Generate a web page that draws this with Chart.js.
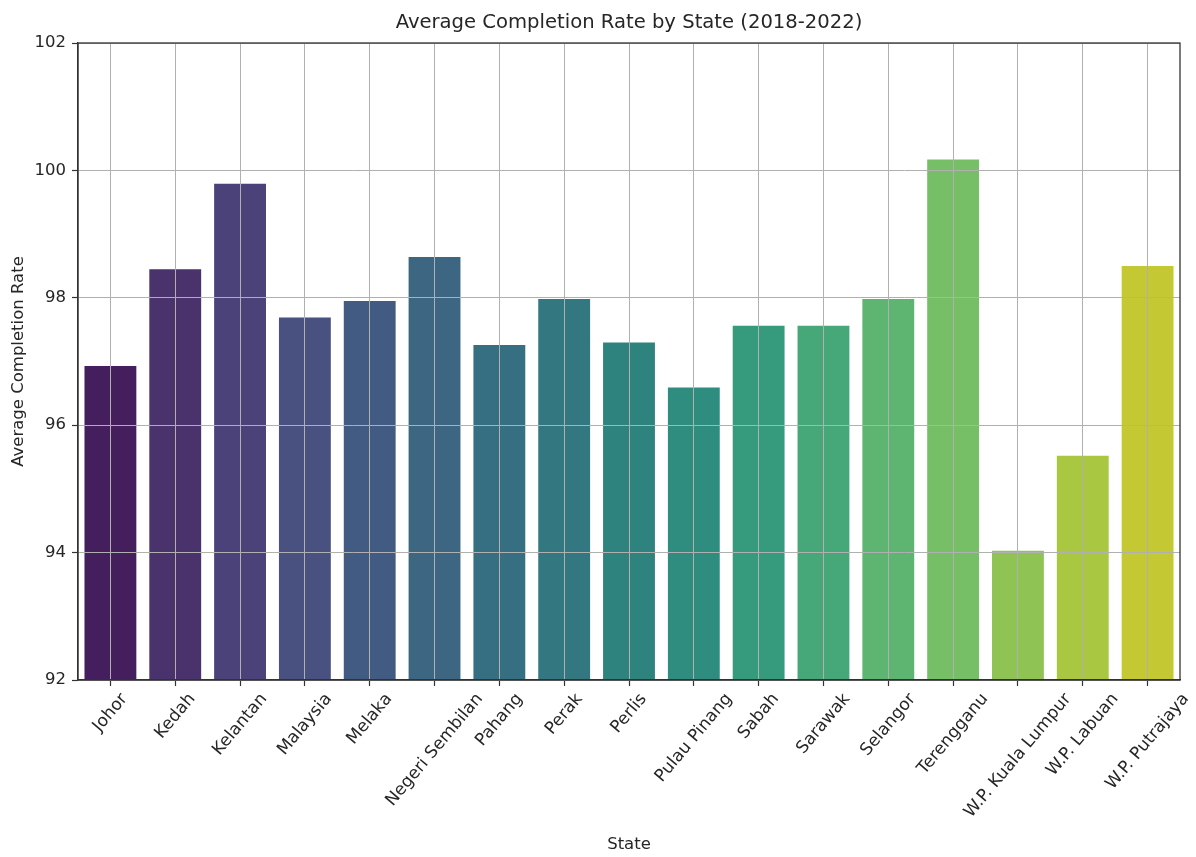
<!DOCTYPE html>
<html>
<head>
<meta charset="utf-8">
<script src="https://cdn.jsdelivr.net/npm/chart.js@4.4.0/dist/chart.umd.min.js"></script>
<style>
html,body{margin:0;padding:0;background:#ffffff;}
#wrap{width:1196px;height:857px;}
</style>
</head>
<body>
<div id="wrap"><canvas id="c" width="1196" height="857"></canvas></div>
<script>
// ---- data ----
const states = ["Johor","Kedah","Kelantan","Malaysia","Melaka","Negeri Sembilan","Pahang","Perak","Perlis","Pulau Pinang","Sabah","Sarawak","Selangor","Terengganu","W.P. Kuala Lumpur","W.P. Labuan","W.P. Putrajaya"];
const completionRates = [96.93, 98.45, 99.79, 97.69, 97.95, 98.64, 97.26, 97.98, 97.30, 96.59, 97.56, 97.56, 97.98, 100.17, 94.03, 95.52, 98.50];
const yTickValues = [92, 94, 96, 98, 100, 102];
const yMin = 92;
const yMax = 102;
const chartTitle = "Average Completion Rate by State (2018-2022)";
const xAxisTitle = "State";
const yAxisTitle = "Average Completion Rate";

// ---- style: viridis palette, desaturated like seaborn (saturation 0.75) ----
const viridisStops = ["#440154","#471365","#482475","#463480","#414487","#3b528b","#355f8d","#2f6c8e","#2a788e","#25848e","#21918c","#1e9c89","#22a884","#2fb47c","#44bf70","#5ec962","#7ad151","#9bd93c","#bddf26","#dfe318","#fde725"];
function hexToRgb(h){return [parseInt(h.slice(1,3),16),parseInt(h.slice(3,5),16),parseInt(h.slice(5,7),16)];}
function viridis(t){
  const p = t*(viridisStops.length-1);
  const i = Math.min(Math.floor(p), viridisStops.length-2);
  const f = p - i;
  const a = hexToRgb(viridisStops[i]), b = hexToRgb(viridisStops[i+1]);
  return a.map((v,k)=>v+(b[k]-v)*f);
}
function desaturate(rgb, prop){
  let [r,g,b] = rgb.map(v=>v/255);
  const mx=Math.max(r,g,b), mn=Math.min(r,g,b);
  const l=(mx+mn)/2;
  let h=0,s=0;
  if(mx!==mn){
    const d=mx-mn;
    s = l>0.5 ? d/(2-mx-mn) : d/(mx+mn);
    if(mx===r) h=((g-b)/d + (g<b?6:0));
    else if(mx===g) h=(b-r)/d+2;
    else h=(r-g)/d+4;
    h/=6;
  }
  s*=prop;
  function hue2rgb(p,q,t){if(t<0)t+=1;if(t>1)t-=1;if(t<1/6)return p+(q-p)*6*t;if(t<1/2)return q;if(t<2/3)return p+(q-p)*(2/3-t)*6;return p;}
  let out;
  if(s===0) out=[l,l,l];
  else{
    const q = l<0.5 ? l*(1+s) : l+s-l*s;
    const p = 2*l-q;
    out=[hue2rgb(p,q,h+1/3),hue2rgb(p,q,h),hue2rgb(p,q,h-1/3)];
  }
  return 'rgb('+out.map(v=>Math.round(v*255)).join(',')+')';
}
const barColors = states.map((_,i)=>desaturate(viridis((i+1)/(states.length+1)),0.75));

const FONT = '"DejaVu Sans", "Liberation Sans", sans-serif';
const TEXT = '#262626';
const SPINE = '#333333';
const X_LABEL_SIZE = 17;
const X_LABEL_ANGLE = 50 * Math.PI / 180;

const decor = {
  id: 'decor',
  afterDraw(chart){
    const ctx = chart.ctx, ca = chart.chartArea, xs = chart.scales.x;
    ctx.save();
    // frame (top/right spines)
    ctx.strokeStyle = SPINE; ctx.lineWidth = 1.3;
    ctx.strokeRect(ca.left, ca.top, ca.right-ca.left, ca.bottom-ca.top);
    // title
    ctx.fillStyle = TEXT;
    ctx.font = '19.6px ' + FONT;
    ctx.textAlign = 'center'; ctx.textBaseline = 'middle';
    ctx.fillText(chartTitle, (ca.left+ca.right)/2, 23);
    // rotated x tick labels, centered on the tick (matplotlib style)
    ctx.font = X_LABEL_SIZE + 'px ' + FONT;
    const labels = xs.getLabels();
    const sn = Math.sin(X_LABEL_ANGLE), cs = Math.cos(X_LABEL_ANGLE);
    labels.forEach((s,i)=>{
      const x = xs.getPixelForTick(i);
      const L = ctx.measureText(s).width;
      const h = X_LABEL_SIZE*1.1;
      const half = (L*sn + h*cs)/2;
      const cy = ca.bottom + 10 + half;
      ctx.save();
      ctx.translate(x, cy);
      ctx.rotate(-X_LABEL_ANGLE);
      ctx.textAlign='center'; ctx.textBaseline='middle';
      ctx.fillText(s,0,0);
      ctx.restore();
    });
    ctx.restore();
  }
};

new Chart(document.getElementById('c'), {
  type: 'bar',
  data: {
    labels: states,
    datasets: [{
      data: completionRates,
      backgroundColor: barColors,
      borderWidth: 0,
      categoryPercentage: 1.0,
      barPercentage: 0.8
    }]
  },
  options: {
    responsive: false,
    animation: false,
    devicePixelRatio: 1,
    layout: { padding: { top: 43, right: 16, left: 0, bottom: 0 } },
    plugins: { legend: { display: false }, title: { display: false }, tooltip: { enabled: false } },
    scales: {
      x: {
        afterFit(s){ s.height = 177; },
        grid: { color: '#b0b0b0', lineWidth: 1, z: 1, offset: false, drawTicks: true, tickLength: 6, tickColor: SPINE, tickWidth: 1.2 },
        border: { color: SPINE, width: 1.3, z: 2 },
        ticks: { display: false },
        title: { display: true, text: xAxisTitle, color: TEXT, font: { family: FONT, size: 16.5 }, padding: { top: 0, bottom: 2.5 } }
      },
      y: {
        min: yMin, max: yMax,
        afterFit(s){ s.width = 78; },
        afterBuildTicks(s){ s.ticks = yTickValues.map(v=>({value:v})); },
        grid: { color: '#b0b0b0', lineWidth: 1, z: 1, drawTicks: true, tickLength: 6, tickColor: SPINE, tickWidth: 1.2 },
        border: { color: SPINE, width: 1.3, z: 2 },
        ticks: { color: TEXT, font: { family: FONT, size: 16.5 }, padding: 6 },
        title: { display: true, text: yAxisTitle, color: TEXT, font: { family: FONT, size: 16.5 }, padding: { top: 9, bottom: 0 } }
      }
    }
  },
  plugins: [decor]
});
</script>
</body>
</html>
